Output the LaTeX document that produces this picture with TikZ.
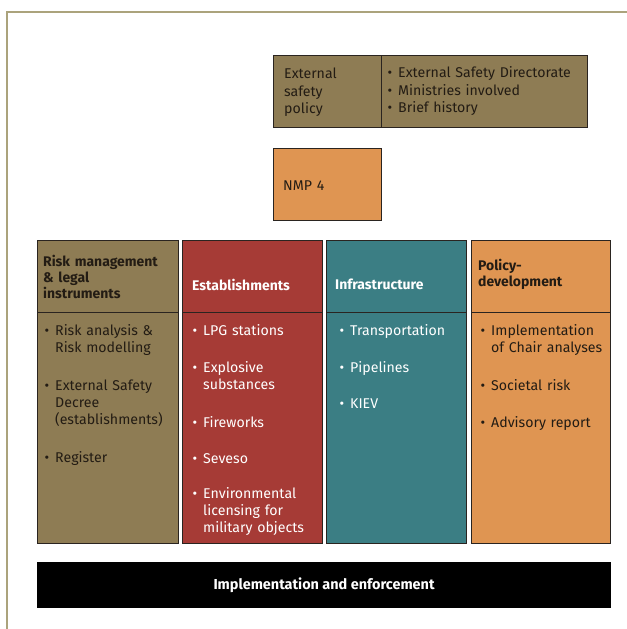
\documentclass[tikz,border=0pt]{standalone}
\usepackage{fontspec}
\setmainfont{Fira Sans}
\definecolor{olive}{HTML}{8E7C54}
\definecolor{brick}{HTML}{A63B36}
\definecolor{teal}{HTML}{3B7E84}
\definecolor{ochre}{HTML}{DF9552}
\definecolor{framec}{HTML}{ABA37C}
\definecolor{edge}{HTML}{2A2420}
\definecolor{darktext}{HTML}{231C14}
\newcommand{\bul}{\leavevmode\llap{\textbullet\hspace{6bp}}}
\begin{document}
\begin{tikzpicture}[x=1bp,y=-1bp,
  cell/.style={draw=edge, line width=1.1bp, anchor=north west, inner sep=0pt},
  txt/.style={anchor=base west, inner sep=0pt, text width=#1, align=left,
    font=\fontsize{14.2}{17.5}\selectfont},
  txt/.default=130bp,
  head/.style={txt=#1, font=\fontsize{14}{16.5}\selectfont\bfseries},
  head/.default=134bp]
\useasboundingbox (0,0) rectangle (627,629);
% page frame
\draw[framec, line width=2bp] (7,629) -- (7,12) -- (627,12);

% external safety policy
\node[cell, fill=olive, minimum width=108bp, minimum height=72bp] (esp) at (273,55) {};
\node[cell, fill=olive, minimum width=206bp, minimum height=72bp] (espl) at (381,55) {};
\node[txt=90bp, text=darktext] (espt) at (284,79) {External\\safety\\policy};
\node[txt=195bp, text=darktext] (esplt) at (398,78)
  {\bul External Safety Directorate\\\bul Ministries involved\\\bul Brief history};

% NMP 4
\node[cell, fill=ochre, minimum width=108bp, minimum height=72bp] (nmp) at (273,148) {};
\node[txt=90bp, text=darktext] (nmpt) at (283,190) {NMP 4};

% column 1
\node[cell, fill=olive, minimum width=141bp, minimum height=72bp] (c1h) at (37,240) {};
\node[cell, fill=olive, minimum width=141bp, minimum height=231bp] (c1b) at (37,312) {};
\node[head, text=darktext] (c1ht) at (43,266) {Risk management\\\& legal\\instruments};
\node[txt, text=darktext] (c1a) at (55,335) {\bul Risk analysis \&\\Risk modelling};
\node[txt, text=darktext] (c1b1) at (55,390) {\bul External Safety\\Decree\\(establishments)};
\node[txt, text=darktext] (c1c) at (55,462) {\bul Register};

% column 2
\node[cell, fill=brick, minimum width=140bp, minimum height=72bp] (c2h) at (182,240) {};
\node[cell, fill=brick, minimum width=140bp, minimum height=231bp] (c2b) at (182,312) {};
\node[head, text=white] (c2ht) at (192,290) {Establishments};
\node[txt, text=white] (c2a) at (203,335) {\bul LPG stations};
\node[txt, text=white] (c2b1) at (203,372) {\bul Explosive\\substances};
\node[txt, text=white] (c2c) at (203,427) {\bul Fireworks};
\node[txt, text=white] (c2d) at (203,463) {\bul Seveso};
\node[txt, text=white] (c2e) at (203,498) {\bul Environmental\\licensing for\\military objects};

% column 3
\node[cell, fill=teal, minimum width=140bp, minimum height=72bp] (c3h) at (326,240) {};
\node[cell, fill=teal, minimum width=140bp, minimum height=231bp] (c3b) at (326,312) {};
\node[head, text=white] (c3ht) at (335,289) {Infrastructure};
\node[txt, text=white] (c3a) at (350,335) {\bul Transportation};
\node[txt, text=white] (c3b1) at (350,372) {\bul Pipelines};
\node[txt, text=white] (c3c) at (350,408) {\bul KIEV};

% column 4
\node[cell, fill=ochre, minimum width=139bp, minimum height=72bp] (c4h) at (471,240) {};
\node[cell, fill=ochre, minimum width=139bp, minimum height=231bp] (c4b) at (471,312) {};
\node[head, text=darktext] (c4ht) at (478,270) {Policy-\\development};
\node[txt, text=darktext] (c4a) at (491,335) {\bul Implementation\\of Chair analyses};
\node[txt, text=darktext] (c4b1) at (491,390) {\bul Societal risk};
\node[txt, text=darktext] (c4c) at (491,427) {\bul Advisory report};

% implementation bar
\node[cell, draw=black, fill=black, minimum width=573bp, minimum height=45bp] (impl) at (37,562) {};
\node[text=white, font=\fontsize{14.5}{17}\selectfont\bfseries, inner sep=0pt] (implt) at (impl.center) {Implementation and enforcement};
\end{tikzpicture}
\end{document}
